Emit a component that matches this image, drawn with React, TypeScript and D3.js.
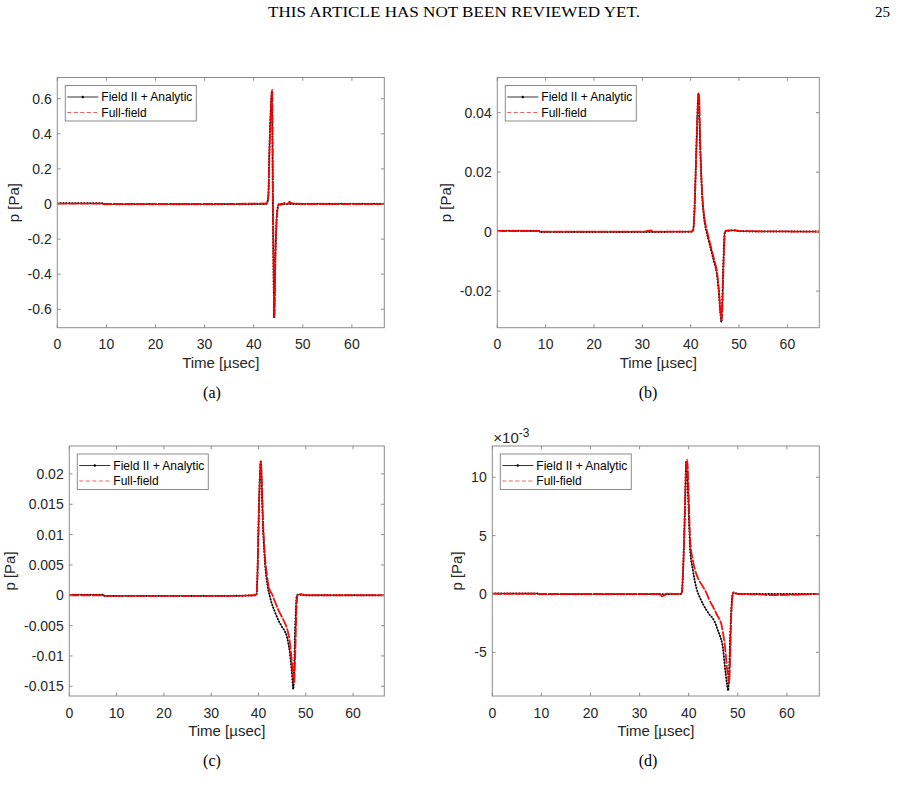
import React from 'react';
import * as d3 from 'd3';

// ---- data (time in µsec, pressure in Pa) ----

const xTicks = [0, 10, 20, 30, 40, 50, 60];
const seriesNames = ['Field II + Analytic', 'Full-field'];
const captions = ['(a)', '(b)', '(c)', '(d)'];

// (a)
const timeA = [0, 9.3, 9.4, 30, 42.5, 42.8, 43.0, 43.2, 43.35, 43.5, 43.6, 43.7, 43.78, 43.85, 43.92, 44.0, 44.08, 44.16, 44.24, 44.36, 44.5, 44.65, 44.85, 45.1, 45.5, 46.3, 46.8, 47.3, 48, 50, 51, 51.1, 66.6];
const fieldA = [0.004, 0.004, -0.002, -0.002, 0.0, 0.01, 0.06, 0.32, 0.45, 0.55, 0.61, 0.644, 0.5, 0.2, -0.05, -0.3, -0.5, -0.649, -0.55, -0.36, -0.2, -0.1, -0.03, -0.005, 0.0, 0.0, 0.0, 0.0, 0.0, 0.0, 0.0, 0.002, 0.002];
const fullA = [0.002, 0.002, 0.0, 0.0, 0.003, 0.015, 0.05, 0.28, 0.42, 0.53, 0.6, 0.64, 0.65, 0.35, 0.05, -0.2, -0.42, -0.6, -0.645, -0.4, -0.22, -0.1, -0.03, 0.0, -0.005, 0.006, 0.0, 0.012, 0.003, 0.001, 0.0, 0.0, 0.0];
const yTicksA = [-0.6, -0.4, -0.2, 0, 0.2, 0.4, 0.6];

// (b)
const timeB = [0, 8.6, 8.7, 30, 31.8, 32.2, 40.2, 40.5, 40.8, 41.05, 41.3, 41.5, 41.6, 41.75, 42.0, 42.2, 42.36, 42.55, 42.77, 43.0, 43.26, 43.6, 43.95, 44.3, 44.63, 45.0, 45.33, 45.5, 45.66, 45.85, 46.0, 46.2, 46.36, 46.5, 46.7, 46.9, 47.05, 47.3, 48, 49, 50, 66.6];
const fieldB = [0.0003, 0.0003, -0.0001, -0.0001, -0.0001, -0.0001, 0, 0.0005, 0.008, 0.0213, 0.035, 0.044, 0.0465, 0.04, 0.0269, 0.018, 0.0123, 0.008, 0.0045, 0.002, 0.0, -0.0023, -0.0045, -0.0067, -0.0089, -0.0112, -0.0134, -0.0153, -0.0179, -0.021, -0.0246, -0.0285, -0.0305, -0.025, -0.0134, -0.004, 0.0, 0.0002, 0.0003, 0.0004, 0.0001, 0];
const fullB = [0.0002, 0.0002, 0.0, 0.0, 0.0004, 0.0, 0, 0.0004, 0.0075, 0.0205, 0.034, 0.0435, 0.0465, 0.0455, 0.028, 0.019, 0.0135, 0.009, 0.0055, 0.003, 0.001, -0.0013, -0.0035, -0.0058, -0.008, -0.0103, -0.0125, -0.0143, -0.0167, -0.0198, -0.0232, -0.0275, -0.0298, -0.028, -0.017, -0.006, -0.001, 0.0003, 0.0004, 0.0006, 0.0002, 0];
const yTicksB = [-0.02, 0, 0.02, 0.04];

// (c)
const timeC = [0, 7.3, 7.4, 33, 39.3, 39.6, 39.8, 39.97, 40.15, 40.3, 40.47, 40.65, 40.85, 41.0, 41.2, 41.37, 41.7, 42.07, 42.4, 42.79, 43.5, 44.19, 44.9, 45.6, 46.0, 46.3, 46.6, 46.87, 47.1, 47.36, 47.55, 47.7, 47.9, 48.07, 48.3, 49, 50, 66.6];
const fieldC = [0.0001, 0.0001, -0.0001, -0.0001, 0, 0.0002, 0.004, 0.0102, 0.016, 0.0198, 0.022, 0.019, 0.0135, 0.0102, 0.0075, 0.0053, 0.0028, 0.0009, -0.0002, -0.0013, -0.0028, -0.0041, -0.0051, -0.006, -0.0068, -0.0079, -0.0093, -0.0112, -0.0132, -0.0155, -0.012, -0.0068, -0.0025, -0.0001, 0.0001, 0.0001, 0, 0];
const fullC = [0, 0, -0.0001, -0.0001, 0, 0.0002, 0.0038, 0.0098, 0.0158, 0.0197, 0.0221, 0.0202, 0.015, 0.0115, 0.0085, 0.0064, 0.0038, 0.0018, 0.0008, 0.0003, -0.0011, -0.0024, -0.0035, -0.0046, -0.0054, -0.0063, -0.0076, -0.0094, -0.0112, -0.0133, -0.0145, -0.0115, -0.006, -0.0015, 0.0001, 0.0002, 0, 0];
const yTicksC = [-0.015, -0.01, -0.005, 0, 0.005, 0.01, 0.015, 0.02];

// (d)  values in units of 1e-3 Pa
const timeD = [0, 9.3, 9.4, 34.2, 34.5, 34.9, 35.5, 38.3, 38.6, 38.85, 39.1, 39.3, 39.5, 39.7, 40.04, 40.3, 40.85, 41.5, 42.2, 42.9, 43.6, 44.2, 44.9, 45.6, 45.9, 46.3, 46.6, 46.8, 47.05, 47.3, 47.55, 47.77, 48.05, 48.2, 48.45, 48.66, 48.86, 49.1, 49.5, 50, 55.5, 55.8, 66.6];
const fieldD = [0.05, 0.05, -0.02, -0.02, -0.02, -0.02, -0.02, 0, 0.1, 2.0, 5.2, 8.5, 11.4, 10.2, 6.6, 3.77, 2.06, 0.63, -0.23, -0.85, -1.37, -1.75, -2.09, -2.7, -3.09, -3.5, -3.9, -4.22, -4.9, -5.94, -6.9, -7.65, -8.28, -7.0, -3.66, -1.5, -0.2, 0.1, 0.05, 0, 0, 0, 0];
const fullD = [0.02, 0.02, 0, 0, -0.2, -0.15, 0.03, 0, 0.1, 1.9, 5.0, 8.3, 11.3, 11.5, 7.8, 4.63, 2.9, 1.77, 1.1, 0.63, 0.1, -0.51, -1.05, -1.65, -1.9, -2.2, -2.51, -2.9, -3.5, -4.22, -5.2, -6.23, -7.2, -7.65, -5.5, -1.94, -0.5, 0.15, 0.1, 0, -0.05, -0.1, 0];
const yTicksD = [-5, 0, 5, 10];

// ---- layout ----
interface PanelSpec {
  time: number[];
  field: number[];
  full: number[];
  yTicks: number[];
  yDomain: [number, number];
  left: number;
  right: number;
  top: number;
  bottom: number;
  caption: string;
  exponent?: string;
}

const panels: PanelSpec[] = [
  { time: timeA, field: fieldA, full: fullA, yTicks: yTicksA, yDomain: [-0.705, 0.721], left: 57.3, right: 384.3, top: 77.5, bottom: 327.7, caption: captions[0] },
  { time: timeB, field: fieldB, full: fullB, yTicks: yTicksB, yDomain: [-0.0323, 0.0518], left: 497.3, right: 819.3, top: 77.5, bottom: 327.7, caption: captions[1] },
  { time: timeC, field: fieldC, full: fullC, yTicks: yTicksC, yDomain: [-0.0166, 0.0246], left: 69.3, right: 384.3, top: 446, bottom: 696, caption: captions[2] },
  { time: timeD, field: fieldD, full: fullD, yTicks: yTicksD, yDomain: [-8.74, 12.68], left: 492.3, right: 819.3, top: 446, bottom: 696, caption: captions[3], exponent: '-3' },
];

const AXIS = '#262626';
const BOX = '#8c8c8c';
const SANS = 'Arial, "Liberation Sans", Helvetica, sans-serif';
const SERIF = '"Liberation Serif", "DejaVu Serif", serif';

function labelWidth(s: string, size: number) {
  let w = 0;
  for (const c of s) w += c === '.' ? 0.278 : c === '-' ? 0.333 : 0.556;
  return w * size;
}

const Panel: React.FC<{ p: PanelSpec; idx: number }> = ({ p, idx }) => {
  const x = d3.scaleLinear().domain([0, 66.6]).range([p.left, p.right]);
  const y = d3.scaleLinear().domain(p.yDomain).range([p.bottom, p.top]);
  const line = d3.line<[number, number]>()
    .x(d => x(d[0]))
    .y(d => y(d[1]))
    .curve(d3.curveMonotoneX);
  const fieldPts = p.time.map((t, i) => [t, p.field[i]] as [number, number]);
  const fullPts = p.time.map((t, i) => [t, p.full[i]] as [number, number]);
  const clipId = `clip-${idx}`;
  const tl = 3.3;
  const maxLab = d3.max(p.yTicks, v => labelWidth(String(v), 14)) || 0;
  const ylabX = p.left - 5.6 - maxLab - 9;
  const midY = (p.top + p.bottom) / 2;
  const lgX = p.left + 8;
  const lgY = p.top + 8;
  const cx = (p.left + p.right) / 2;

  return (
    <g>
      <defs>
        <clipPath id={clipId}>
          <rect x={p.left} y={p.top} width={p.right - p.left} height={p.bottom - p.top} />
        </clipPath>
      </defs>
      <rect x={p.left} y={p.top} width={p.right - p.left} height={p.bottom - p.top} fill="#fff" />

      {/* series */}
      <g clipPath={`url(#${clipId})`}>
        <path d={line(fieldPts) || ''} fill="none" stroke="#000" strokeWidth={0.7} />
        <path d={line(fieldPts) || ''} fill="none" stroke="#000" strokeWidth={2} strokeDasharray="0 3" strokeLinecap="round" />
        <path d={line(fullPts) || ''} fill="none" stroke="#ff0000" strokeWidth={1.8} strokeDasharray="10 1.2" opacity={0.95} />
      </g>

      {/* box and ticks */}
      <rect x={p.left} y={p.top} width={p.right - p.left} height={p.bottom - p.top} fill="none" stroke={BOX} strokeWidth={1} />
      {xTicks.map(t => (
        <g key={`xt${t}`}>
          <line x1={x(t)} x2={x(t)} y1={p.bottom} y2={p.bottom - tl} stroke={BOX} />
          <line x1={x(t)} x2={x(t)} y1={p.top} y2={p.top + tl} stroke={BOX} />
          <text x={x(t)} y={p.bottom + 21.6} textAnchor="middle" fontSize={14} fill={AXIS} fontFamily={SANS}>{t}</text>
        </g>
      ))}
      {p.yTicks.map(v => (
        <g key={`yt${v}`}>
          <line x1={p.left} x2={p.left + tl} y1={y(v)} y2={y(v)} stroke={BOX} />
          <line x1={p.right} x2={p.right - tl} y1={y(v)} y2={y(v)} stroke={BOX} />
          <text x={p.left - 5.6} y={y(v) + 5} textAnchor="end" fontSize={14} fill={AXIS} fontFamily={SANS}>{String(v)}</text>
        </g>
      ))}
      {p.exponent && (
        <text x={p.left + 1} y={p.top - 3} fontSize={15} fill={AXIS} fontFamily={SANS}>
          ×10<tspan fontSize={12} dy={-6}>{p.exponent}</tspan>
        </text>
      )}

      {/* axis labels */}
      <text x={cx} y={p.bottom + 40} textAnchor="middle" fontSize={15} fill={AXIS} fontFamily={SANS}>Time [µsec]</text>
      <text transform={`translate(${ylabX},${midY}) rotate(-90)`} textAnchor="middle" fontSize={15} fill={AXIS} fontFamily={SANS}>p [Pa]</text>

      {/* legend */}
      <rect x={lgX} y={lgY} width={131} height={35.5} fill="#fff" stroke={BOX} strokeWidth={1} />
      <line x1={lgX + 2} x2={lgX + 33} y1={lgY + 11.5} y2={lgY + 11.5} stroke="#000" strokeWidth={0.8} />
      <circle cx={lgX + 17.5} cy={lgY + 11.5} r={1.2} fill="#000" />
      <line x1={lgX + 2} x2={lgX + 33} y1={lgY + 27} y2={lgY + 27} stroke="#f06060" strokeWidth={1} strokeDasharray="4 2.5" />
      <text x={lgX + 36} y={lgY + 15.8} fontSize={12} fill="#000" fontFamily={SANS}>{seriesNames[0]}</text>
      <text x={lgX + 36} y={lgY + 31.3} fontSize={12} fill="#000" fontFamily={SANS}>{seriesNames[1]}</text>

      {/* sub caption */}
      <text x={idx % 2 === 0 ? 212 : 648} y={p.bottom + 70} textAnchor="middle" fontSize={16} fill="#000" fontFamily={SERIF}>{p.caption}</text>
    </g>
  );
};

export default function App() {
  return (
    <svg width={908} height={807} style={{ position: 'absolute', left: 0, top: 0, background: '#fff' }}>
      <rect width={908} height={807} fill="#fff" />
      <text x={454} y={17} textAnchor="middle" fontSize={15} fontFamily={SERIF} fill="#000" textLength={372} lengthAdjust="spacingAndGlyphs">
        THIS ARTICLE HAS NOT BEEN REVIEWED YET.
      </text>
      <text x={890} y={17} textAnchor="end" fontSize={15} fontFamily={SERIF} fill="#000">25</text>
      {panels.map((p, i) => <Panel key={i} p={p} idx={i} />)}
    </svg>
  );
}
